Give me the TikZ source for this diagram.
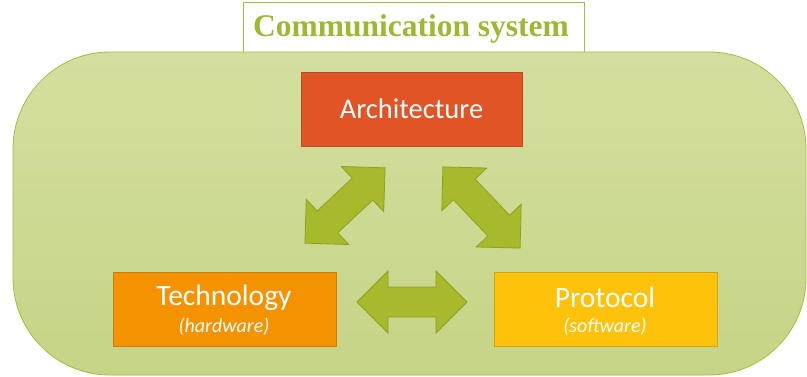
\documentclass[tikz,border=0pt]{standalone}
\usepackage{fontspec}
\setmainfont{Carlito}
\newfontfamily\titlefont{Liberation Serif}
\definecolor{bgtop}{HTML}{D4DF9F}
\definecolor{bgbot}{HTML}{C5D486}
\definecolor{bgline}{HTML}{A7BC3A}
\definecolor{titlegreen}{HTML}{9DB832}
\definecolor{archfill}{HTML}{E05426}
\definecolor{archline}{HTML}{BE4820}
\definecolor{techfill}{HTML}{F59200}
\definecolor{techline}{HTML}{CF7D05}
\definecolor{protfill}{HTML}{FEC20A}
\definecolor{protline}{HTML}{D6A40F}
\definecolor{arrfill}{HTML}{A8B92B}
\definecolor{arrline}{HTML}{8EA021}
\newcommand{\dblarr}[4]{%
  \begin{scope}[shift={#2},rotate=#3]
    \coordinate (#1) at (0,0);
    \path[blockarr] (-#4/2,0) -- ++(31,31) -- ++(0,-16) -- (#4/2-31,15) -- ++(0,16) -- (#4/2,0)
      -- (#4/2-31,-31) -- ++(0,16) -- (-#4/2+31,-15) -- ++(0,-16) -- cycle;
  \end{scope}}
\tikzset{
  box/.style={rectangle, minimum width=222pt, minimum height=74pt, line width=0.8pt,
    text=white, align=center, inner sep=0pt},
  blockarr/.style={fill=arrfill, draw=arrline, line width=0.8pt, line join=miter},
}
\begin{document}
\begin{tikzpicture}[x=1pt,y=1pt]
\useasboundingbox (0,0) rectangle (807,376);
% title box
\node[draw=bgline, fill=white, line width=0.8pt, minimum width=341pt, minimum height=50pt,
  anchor=south, inner sep=0pt] (titlebox) at (413.5,323) {};
\node[text=titlegreen, font=\titlefont\bfseries\fontsize{31.5}{33}\selectfont] (title) at (411,347) {Communication system};
% big rounded area
\shade[top color=bgtop, bottom color=bgbot, draw=bgline, line width=0.8pt, rounded corners=97pt]
  (13,1) rectangle (806,324);
\coordinate (area) at (409.5,162.5);
% boxes
\node[box, fill=archfill, draw=archline, minimum width=221pt] (arch) at (411.5,267)
  {\fontsize{28.5}{30}\selectfont Architecture};
\node[box, fill=techfill, draw=techline, minimum width=223pt] (tech) at (224.5,67) {};
\node[text=white, font=\fontsize{29.5}{31}\selectfont] (techlbl) at (224,78.5) {Technology};
\node[text=white, font=\itshape\fontsize{20}{22}\selectfont] (techsub) at (224,49.5) {(hardware)};
\node[box, fill=protfill, draw=protline, minimum width=223pt] (prot) at (605.5,67) {};
\node[text=white, font=\fontsize{29.5}{31}\selectfont] (protlbl) at (605,78.5) {Protocol};
\node[text=white, font=\itshape\fontsize{20}{22}\selectfont] (protsub) at (605,49.5) {(software)};
% double block arrows
\dblarr{ah}{(412,74)}{0}{110}
\dblarr{al}{(345,170.5)}{43.2}{110}
\dblarr{ar}{(481.5,168.5)}{-46.4}{112}
\end{tikzpicture}
\end{document}
